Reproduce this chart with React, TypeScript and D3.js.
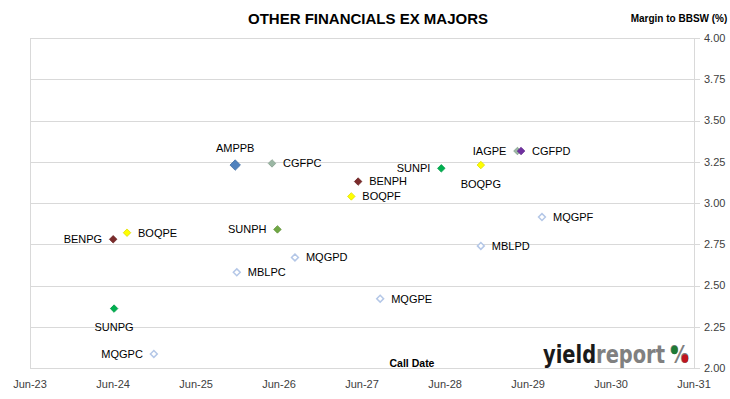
import React, { useEffect, useRef } from 'react';
import * as d3 from 'd3';

// Securities, call dates and margins
const codes = ['AMPPB', 'CGFPC', 'BENPH', 'BOQPF', 'SUNPI', 'BOQPG', 'IAGPE', 'CGFPD', 'MQGPF', 'MBLPD', 'SUNPH', 'BENPG', 'BOQPE', 'MQGPD', 'MBLPC', 'MQGPE', 'SUNPG', 'MQGPC'];
const callDates = ['2025-11-20', '2026-05-01', '2027-05-15', '2027-04-15', '2028-05-15', '2028-11-05', '2029-04-15', '2029-05-01', '2029-08-01', '2028-11-05', '2026-05-25', '2024-06-01', '2024-08-01', '2026-08-10', '2025-11-27', '2027-08-20', '2024-06-05', '2024-11-27'];
const margins = [3.23, 3.24, 3.13, 3.04, 3.21, 3.23, 3.315, 3.315, 2.915, 2.74, 2.84, 2.78, 2.82, 2.67, 2.58, 2.42, 2.36, 2.085];

const yTicks = [2.0, 2.25, 2.5, 2.75, 3.0, 3.25, 3.5, 3.75, 4.0];
const xTickDates = ['2023-06-01', '2024-06-01', '2025-06-01', '2026-06-01', '2027-06-01', '2028-06-01', '2029-06-01', '2030-06-01', '2031-06-01'];

// issuer colours
const issuerColor = {
    AMP: '#4F81BD',
    CGF: '#9BB7A4',
    BEN: '#7B2B2B',
    BOQ: '#FFFF00',
    SUN: '#00B050',
    IAG: '#9BB7A4',
    MQG: '#B4C7E7',
    MBL: '#B4C7E7',
};
const specialColor = { CGFPD: '#7030A0', SUNPH: '#70A844' };

// where each label sits relative to its point
const labelSide = {
    AMPPB: 'above', CGFPC: 'right', BENPH: 'right', BOQPF: 'right', SUNPI: 'left', BOQPG: 'below',
    IAGPE: 'left', CGFPD: 'right', MQGPF: 'right', MBLPD: 'right', SUNPH: 'left', BENPG: 'left',
    BOQPE: 'right', MQGPD: 'right', MBLPC: 'right', MQGPE: 'right', SUNPG: 'below', MQGPC: 'left',
};

const App = () => {
    const ref = useRef(null);

    useEffect(() => {
        document.body.style.margin = '0';
        const svg = d3.select(ref.current);
        svg.selectAll('*').remove();

        const width = 730;
        const height = 399;
        const marginTop = 38;
        const marginRight = 36;
        const marginBottom = 31;
        const marginLeft = 30;
        const font = "'Liberation Sans', Arial, sans-serif";

        const parse = d3.timeParse('%Y-%m-%d');
        const data = codes.map((c, i) => ({ code: c, date: parse(callDates[i]), margin: margins[i] }));

        const x = d3.scaleTime()
            .domain([parse(xTickDates[0]), parse(xTickDates[xTickDates.length - 1])])
            .range([marginLeft, width - marginRight]);
        const y = d3.scaleLinear()
            .domain([2, 4])
            .range([height - marginBottom, marginTop]);

        svg.attr('viewBox', [0, 0, width, height])
            .style('font-family', font);

        // grid lines with small tick stubs on the right
        svg.append('g')
            .selectAll('line')
            .data(yTicks)
            .join('line')
            .attr('x1', marginLeft)
            .attr('x2', width - marginRight + 6)
            .attr('y1', d => Math.round(y(d)) + 0.5)
            .attr('y2', d => Math.round(y(d)) + 0.5)
            .attr('stroke', '#D9D9D9');

        // left border and right axis line
        svg.append('line')
            .attr('x1', marginLeft + 0.5).attr('x2', marginLeft + 0.5)
            .attr('y1', y(4)).attr('y2', y(2))
            .attr('stroke', '#D9D9D9');
        svg.append('line')
            .attr('x1', width - marginRight + 0.5).attr('x2', width - marginRight + 0.5)
            .attr('y1', y(4)).attr('y2', y(2))
            .attr('stroke', '#D9D9D9');

        // y labels on right
        svg.append('g')
            .selectAll('text')
            .data(yTicks)
            .join('text')
            .attr('x', width - marginRight + 10)
            .attr('y', d => y(d))
            .attr('dy', '0.35em')
            .attr('font-size', 11)
            .attr('fill', '#404040')
            .text(d => d3.format('.2f')(d));

        // x labels
        svg.append('g')
            .selectAll('text')
            .data(xTickDates.map(parse))
            .join('text')
            .attr('x', d => x(d))
            .attr('y', height - 11)
            .attr('text-anchor', 'middle')
            .attr('font-size', 11)
            .attr('fill', '#404040')
            .text(d => d3.timeFormat('%b-%y')(d));

        // title and axis captions
        svg.append('text')
            .attr('x', 368).attr('y', 24)
            .attr('text-anchor', 'middle')
            .attr('font-size', 15)
            .attr('font-weight', 'bold')
            .attr('fill', '#000')
            .text('OTHER FINANCIALS EX MAJORS');
        svg.append('text')
            .attr('x', 679).attr('y', 22)
            .attr('text-anchor', 'middle')
            .attr('font-size', 10)
            .attr('font-weight', 'bold')
            .text('Margin to BBSW (%)');
        svg.append('text')
            .attr('x', 412).attr('y', 367)
            .attr('text-anchor', 'middle')
            .attr('font-size', 10.5)
            .attr('font-weight', 'bold')
            .text('Call Date');

        // logo - measured then squeezed horizontally to fit the corner
        const logoFont = "'Liberation Sans Narrow', 'DejaVu Sans Condensed', 'Liberation Sans', sans-serif";
        const wordG = svg.append('g');
        const word = wordG.append('text')
            .attr('x', 0).attr('y', 0)
            .attr('font-size', 24)
            .attr('font-weight', 'bold')
            .style('font-family', logoFont);
        word.append('tspan').attr('fill', '#1A1A1A').text('yield');
        word.append('tspan').attr('fill', '#808080').text('report');
        const ww = word.node().getComputedTextLength() || 120;
        wordG.attr('transform', `translate(543,363) scale(${122 / ww},1)`);

        const pctG = svg.append('g');
        const pct = pctG.append('text')
            .attr('x', 0).attr('y', 0)
            .attr('font-size', 24)
            .attr('font-weight', 'bold')
            .attr('fill', '#808080')
            .style('font-family', logoFont)
            .text('%');
        const pw = pct.node().getComputedTextLength() || 20;
        pctG.attr('transform', `translate(670,363) scale(${19 / pw},1)`);
        svg.append('ellipse').attr('cx', 674.5).attr('cy', 350).attr('rx', 3.2).attr('ry', 4.2).attr('fill', '#1E7B34');
        svg.append('ellipse').attr('cx', 685).attr('cy', 358.5).attr('rx', 3.2).attr('ry', 4.2).attr('fill', '#C0141E');

        // points
        const colorOf = d => specialColor[d.code] || issuerColor[d.code.slice(0, 3)];
        const hollow = d => d.code.startsWith('MQG') || d.code.startsWith('MBL');
        const diamond = d3.symbol().type(d3.symbolDiamond2);

        svg.append('g')
            .selectAll('path')
            .data(data)
            .join('path')
            .attr('transform', d => `translate(${x(d.date)},${y(d.margin)})`)
            .attr('d', d => diamond.size(d.code === 'AMPPB' ? 70 : (hollow(d) ? 30 : 36))())
            .attr('fill', d => hollow(d) ? '#fff' : colorOf(d))
            .attr('stroke', d => hollow(d) ? colorOf(d) : d3.color(colorOf(d)).darker(0.4))
            .attr('stroke-width', d => hollow(d) ? 1.5 : 0.8);

        // labels
        svg.append('g')
            .selectAll('text')
            .data(data)
            .join('text')
            .attr('x', d => {
                const side = labelSide[d.code];
                if (side === 'right') return x(d.date) + 11;
                if (side === 'left') return x(d.date) - 11;
                return x(d.date);
            })
            .attr('y', d => {
                const side = labelSide[d.code];
                if (side === 'above') return y(d.margin) - 17;
                if (side === 'below') return y(d.margin) + 19;
                return y(d.margin);
            })
            .attr('dy', '0.35em')
            .attr('text-anchor', d => {
                const side = labelSide[d.code];
                if (side === 'right') return 'start';
                if (side === 'left') return 'end';
                return 'middle';
            })
            .attr('font-size', 11)
            .attr('fill', '#000')
            .text(d => d.code);
    }, []);

    return <svg ref={ref} width={730} height={399} style={{ display: 'block' }} />;
};

export default App;
